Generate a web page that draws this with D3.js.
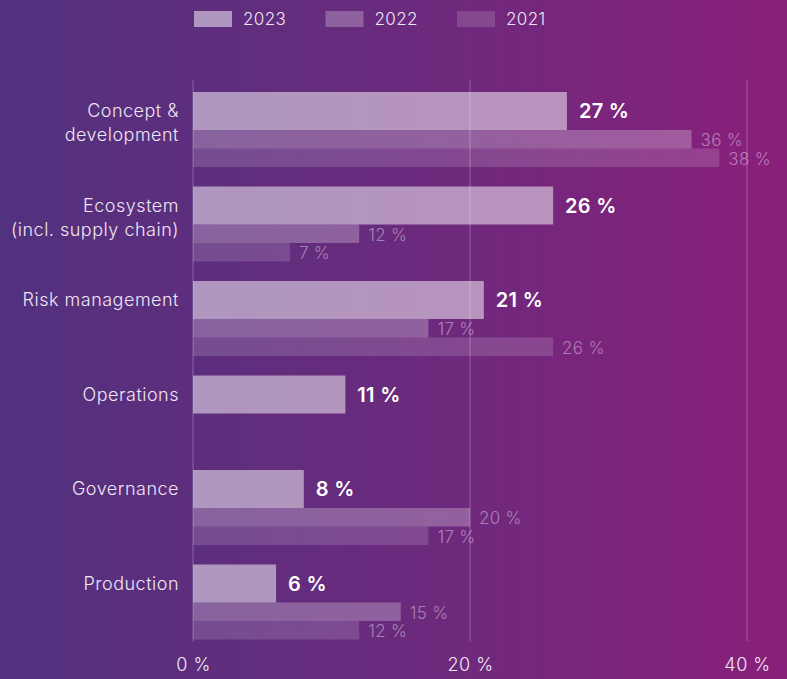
<!DOCTYPE html>
<html>
<head>
<meta charset="utf-8">
<script src="https://cdn.jsdelivr.net/npm/d3@7"></script>
<style>
  html, body { margin: 0; padding: 0; background: #5a2e7f; }
  svg { display: block; font-family: Inter, "Noto Sans", sans-serif; }
</style>
</head>
<body>
<svg id="chart" width="787" height="679"></svg>
<script>
// Focus areas by survey year (share of respondents, %)
const categories = [
  ["Concept &", "development"],
  ["Ecosystem", "(incl. supply chain)"],
  ["Risk management"],
  ["Operations"],
  ["Governance"],
  ["Production"]
];
const values2023 = [27, 26, 21, 11, 8, 6];
const values2022 = [36, 12, 17, null, 20, 15];
const values2021 = [38, 7, 26, null, 17, 12];
const years = ["2023", "2022", "2021"];
const xTicks = [0, 20, 40];

const svg = d3.select("#chart");
const W = 787, H = 679;

// Background gradient
const defs = svg.append("defs");
const grad = defs.append("linearGradient").attr("id", "bg").attr("x1", 0).attr("x2", 1).attr("y1", 0).attr("y2", 0);
grad.append("stop").attr("offset", "0%").attr("stop-color", "#52317e");
grad.append("stop").attr("offset", "55%").attr("stop-color", "#6c2a7d");
grad.append("stop").attr("offset", "100%").attr("stop-color", "#8a1f7b");
svg.append("rect").attr("width", W).attr("height", H).attr("fill", "url(#bg)");

const x = d3.scaleLinear().domain([0, 40]).range([193, 747]);
const y = d3.scaleBand().domain(d3.range(categories.length)).range([92, 659]).paddingInner(0).paddingOuter(0);

// Sub-bar geometry within each group band
const h2023 = 38, hOld = 18.5;
const seriesStyle = [
  { vals: values2023, off: 0, h: h2023, op: 0.5 },
  { vals: values2022, off: h2023, h: hOld, op: 0.26 },
  { vals: values2021, off: h2023 + hOld, h: hOld, op: 0.15 }
];

const textColor = "#efe6f3";

// Grid lines
svg.append("g").selectAll("line").data(xTicks).join("line")
  .attr("x1", d => x(d)).attr("x2", d => x(d))
  .attr("y1", 80).attr("y2", 641)
  .attr("stroke", "#ffffff").attr("stroke-opacity", 0.28).attr("stroke-width", 1);

// Bars
seriesStyle.forEach((s, si) => {
  const g = svg.append("g");
  const data = s.vals.map((v, i) => ({ v, i })).filter(d => d.v !== null);
  g.selectAll("rect").data(data).join("rect")
    .attr("x", x(0))
    .attr("y", d => y(d.i) + s.off)
    .attr("width", d => x(d.v) - x(0))
    .attr("height", s.h)
    .attr("fill", "#ffffff")
    .attr("fill-opacity", s.op);
  if (si === 0) {
    g.selectAll("text").data(data).join("text")
      .attr("x", d => x(d.v) + 12)
      .attr("y", d => y(d.i) + s.off + s.h / 2)
      .attr("dy", "0.36em")
      .attr("fill", "#ffffff")
      .attr("font-size", 20)
      .attr("font-weight", 600)
      .attr("letter-spacing", 0.3)
      .text(d => d.v + " %");
  } else {
    g.selectAll("text").data(data).join("text")
      .attr("x", d => x(d.v) + 9)
      .attr("y", d => y(d.i) + s.off + s.h / 2 + 1)
      .attr("dy", "0.36em")
      .attr("fill", "#ffffff")
      .attr("fill-opacity", 0.42)
      .attr("font-size", 17)
      .attr("font-weight", 300)
      .attr("letter-spacing", 0.3)
      .text(d => d.v + " %");
  }
});

// Category labels
const labG = svg.append("g");
categories.forEach((lines, i) => {
  const cy = y(i) + h2023 / 2;
  const t = labG.append("text")
    .attr("x", 179)
    .attr("text-anchor", "end")
    .attr("fill", textColor)
    .attr("font-size", 18)
    .attr("font-weight", 300)
    .attr("letter-spacing", 0.5);
  lines.forEach((ln, k) => {
    t.append("tspan").attr("x", 179).attr("y", cy + k * 24).attr("dy", "0.36em").text(ln);
  });
});

// X axis labels
const xAxis = d3.axisBottom(x).tickValues(xTicks).tickFormat(d => d + " %").tickSize(0).tickPadding(0);
const ax = svg.append("g").attr("transform", "translate(0,658)").call(xAxis);
ax.select(".domain").remove();
ax.selectAll("text")
  .attr("fill", textColor)
  .attr("font-size", 18)
  .attr("font-weight", 300)
  .attr("letter-spacing", 0.5)
  .attr("font-family", "Inter, 'Noto Sans', sans-serif")
  .attr("dy", "0.71em");

// Legend
const legend = svg.append("g");
years.forEach((yr, i) => {
  const lx = 194 + i * 131.5;
  legend.append("rect").attr("x", lx).attr("y", 11).attr("width", 38).attr("height", 16)
    .attr("fill", "#ffffff").attr("fill-opacity", seriesStyle[i].op);
  legend.append("text").attr("x", lx + 49).attr("y", 19).attr("dy", "0.36em")
    .attr("fill", textColor).attr("font-size", 17).attr("font-weight", 300)
    .attr("letter-spacing", 0.4).text(yr);
});
</script>
</body>
</html>
